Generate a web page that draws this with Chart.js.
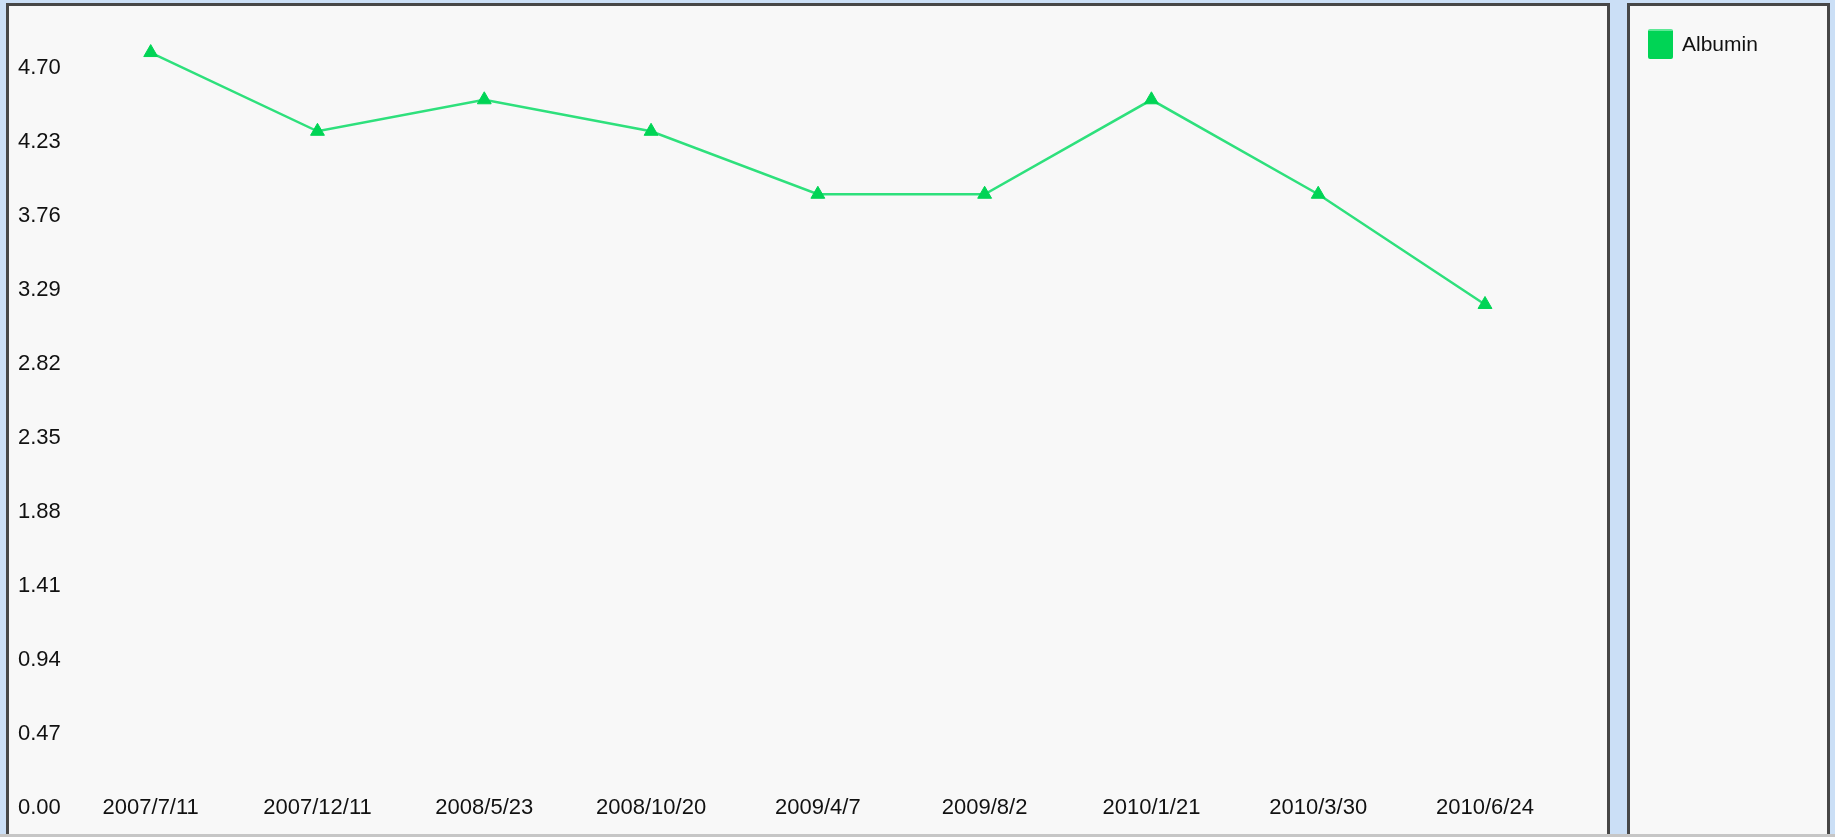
<!DOCTYPE html>
<html>
<head>
<meta charset="utf-8">
<script src="https://cdn.jsdelivr.net/npm/chart.js@4.4.1/dist/chart.umd.min.js"></script>
<style>
	html, body { margin: 0; padding: 0; }
	body { width: 1835px; height: 837px; background: #cbdff6; position: relative; overflow: hidden; font-family: "Liberation Sans", Arial, sans-serif; }
	.panel { position: absolute; box-sizing: border-box; background: #f8f8f8; border: 3px solid #474747; border-bottom: none; }
	#plotPanel { left: 6px; top: 3px; width: 1604px; height: 834px; }
	#legendPanel { left: 1627px; top: 3px; width: 203px; height: 834px; }
	#bottomLine { position: absolute; left: 0; top: 834px; width: 1835px; height: 3px; background: #c6c6c6; }
	#chartBox { position: absolute; left: 0; top: 0; width: 1835px; height: 837px; }
	#legend { position: absolute; left: 1648px; top: 29px; }
	.legend-item { display: flex; align-items: center; font-size: 21px; color: #111; }
	.legend-box { width: 25px; height: 30px; margin-right: 9px; box-sizing: border-box; border-top: 2px solid #5ee896; border-radius: 2px; }
</style>
</head>
<body>
<div class="panel" id="plotPanel"></div>
<div class="panel" id="legendPanel"></div>
<div id="bottomLine"></div>
<div id="chartBox"><canvas id="chart"></canvas></div>
<div id="legend"></div>
<script>
	// data
	const categories = ["2007/7/11", "2007/12/11", "2008/5/23", "2008/10/20", "2009/4/7", "2009/8/2", "2010/1/21", "2010/3/30", "2010/6/24"];
	const albumin = [4.8, 4.3, 4.5, 4.3, 3.9, 3.9, 4.5, 3.9, 3.2];
	const yTicks = [0, 0.47, 0.94, 1.41, 1.88, 2.35, 2.82, 3.29, 3.76, 4.23, 4.70];
	const seriesName = "Albumin";

	const lineColor = "#2ee07c";
	const markColor = "#00d455";
	const tickFont = { family: "'Liberation Sans', Arial, sans-serif", size: 22 };

	// legend sits in its own panel, so build it as html from the chart's legend items
	const htmlLegend = {
		id: "htmlLegend",
		afterUpdate: function (chart) {
			const box = document.getElementById("legend");
			box.innerHTML = "";
			chart.options.plugins.legend.labels.generateLabels(chart).forEach(function (item) {
				const row = document.createElement("div");
				row.className = "legend-item";
				const swatch = document.createElement("span");
				swatch.className = "legend-box";
				swatch.style.background = markColor;
				const text = document.createElement("span");
				text.textContent = item.text;
				row.appendChild(swatch);
				row.appendChild(text);
				box.appendChild(row);
			});
		},
	};

	const chart = new Chart(document.getElementById("chart"), {
		type: "line",
		data: {
			labels: categories,
			datasets: [
				{
					label: seriesName,
					data: albumin,
					borderColor: lineColor,
					backgroundColor: markColor,
					borderWidth: 2.5,
					pointStyle: "triangle",
					pointRadius: 8,
					pointBorderWidth: 1,
					pointBorderColor: markColor,
					pointBackgroundColor: markColor,
					tension: 0,
				},
			],
		},
		options: {
			responsive: true,
			maintainAspectRatio: false,
			animation: false,
			layout: {
				padding: { left: 18, top: 10.7, right: 266.6, bottom: 0 },
			},
			plugins: {
				legend: { display: false },
				tooltip: { enabled: false },
			},
			scales: {
				x: {
					offset: true,
					grid: { display: false, drawTicks: false },
					border: { display: false },
					ticks: {
						// mirrored so the dates sit on the 0.00 row, like the original
						mirror: true,
						padding: -13.2,
						maxRotation: 0,
						autoSkip: false,
						color: "#111",
						font: tickFont,
					},
					afterFit: function (scale) {
						scale.height = 28.7;
					},
				},
				y: {
					min: 0,
					max: 5.05,
					grid: { display: false, drawTicks: false },
					border: { display: false },
					afterBuildTicks: function (scale) {
						scale.ticks = yTicks.map(function (v) {
							return { value: v };
						});
					},
					afterFit: function (scale) {
						scale.width = 49.3;
					},
					ticks: {
						crossAlign: "far",
						padding: 0,
						color: "#111",
						font: tickFont,
						callback: function (value) {
							return Number(value).toFixed(2);
						},
					},
				},
			},
		},
		plugins: [htmlLegend],
	});
</script>
</body>
</html>
